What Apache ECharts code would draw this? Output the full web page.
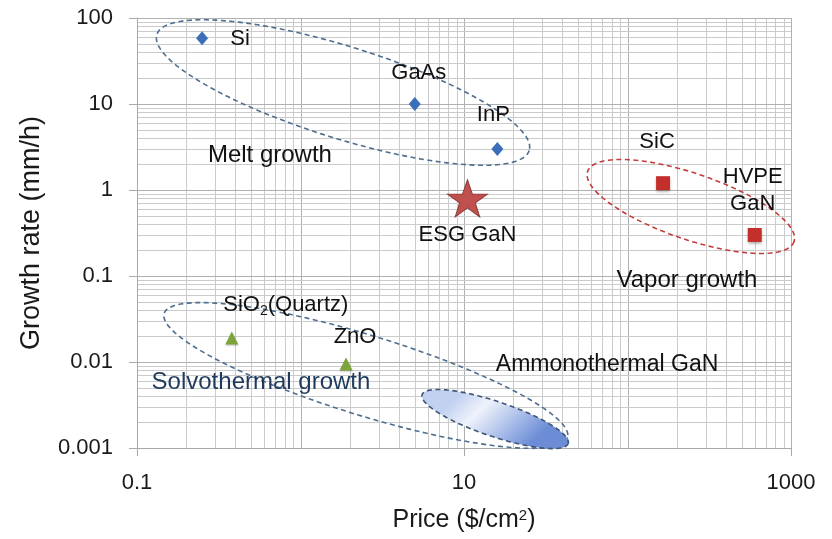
<!DOCTYPE html>
<html>
<head>
<meta charset="utf-8">
<title>Growth rate vs. price</title>
<script src="https://cdn.jsdelivr.net/npm/echarts@6/dist/echarts.min.js"></script>
<style>
  html, body { margin: 0; padding: 0; background: #ffffff; }
  #chart { width: 832px; height: 539px; }
</style>
</head>
<body>
<div id="chart"></div>
<script>
const FONT = '"Liberation Sans", Arial, "DejaVu Sans", sans-serif';

// Melt-grown crystals (blue diamonds)
const meltNames = ['Si', 'GaAs', 'InP'];
const meltPrice = [0.25, 5, 16];
const meltRate = [58, 10, 3];

// Vapor-grown crystals (red squares)
const vaporNames = ['SiC', 'HVPE\nGaN'];
const vaporPrice = [165, 600];
const vaporRate = [1.2, 0.3];

// Solvothermally grown crystals (green triangles)
const solvoNames = ['SiO{sub|2}(Quartz)', 'ZnO'];
const solvoPrice = [0.38, 1.9];
const solvoRate = [0.019, 0.0095];

// ESG GaN (red star)
const esgNames = ['ESG GaN'];
const esgPrice = [10.5];
const esgRate = [0.8];

// Growth-method regions: ellipse centre and caption anchor, in axis units
const regionNames = ['Melt growth', 'Vapor growth', 'Solvothermal growth', 'Ammonothermal GaN'];
const regionCenterPrice = [1.82, 244, 2.51, 15.5];
const regionCenterRate = [13.6, 0.643, 0.00697, 0.00217];
const regionLabelPrice = [0.65, 231, 0.573, 75];
const regionLabelRate = [2.52, 0.0887, 0.00578, 0.00935];

// Axis ticks
const xTickValues = [0.1, 10, 1000];
const xTickLabels = ['0.1', '10', '1000'];
const yTickValues = [0.001, 0.01, 0.1, 1, 10, 100];
const yTickLabels = ['0.001', '0.01', '0.1', '1', '10', '100'];

const X_MIN = 0.1, X_MAX = 1000, Y_MIN = 0.001, Y_MAX = 100;

// ---- styling -------------------------------------------------------------
// ellipse half-axes and tilt in pixels/degrees
const regionShapes = [
  { a: 195, b: 46, tilt: 17.3, stroke: '#4f6d8f', fill: null },
  { a: 109, b: 33, tilt: 18.8, stroke: '#c43b3b', fill: null },
  { a: 211, b: 40, tilt: 17.1, stroke: '#4f6d8f', fill: null },
  { a: 77, b: 17.5, tilt: 18.5, stroke: '#3f5676', fill: 'grad' }
];
const regionTextStyles = [
  { size: 24, color: '#111111' },
  { size: 24, color: '#111111' },
  { size: 24, color: '#1f3a5c' },
  { size: 23, color: '#111111' }
];
const pointLabelOffsets = {
  'Si': [38, 1],
  'GaAs': [4, -31],
  'InP': [-4, -34],
  'SiC': [-6, -41],
  'HVPE\nGaN': [-2, -45],
  'SiO{sub|2}(Quartz)': [54, -33],
  'ZnO': [9, -27],
  'ESG GaN': [0, 37]
};

function nearestLabel(v, values, labels) {
  let best = 0, bd = Infinity;
  values.forEach((t, i) => {
    const d = Math.abs(Math.log10(v) - Math.log10(t));
    if (d < bd) { bd = d; best = i; }
  });
  return bd < 0.01 ? labels[best] : '';
}

function buildPoints(names, xs, ys) {
  return names.map((n, i) => ({
    name: n,
    value: [xs[i], ys[i]],
    label: { offset: pointLabelOffsets[n] || [0, 0] }
  }));
}

const pointLabel = {
  show: true,
  position: 'inside',
  formatter: p => p.name,
  fontFamily: FONT,
  fontSize: 22,
  color: '#111111',
  opacity: 1,
  lineHeight: 27,
  align: 'center',
  verticalAlign: 'middle',
  rich: {
    sub: { fontFamily: FONT, fontSize: 14, color: '#111111', verticalAlign: 'bottom', padding: [12, 0, 0, 0] }
  }
};

// log grid: decade lines plus 2..9 within each decade
const gridMultipliers = [1, 2, 3, 4, 5, 6, 7, 8, 9];
const gridData = [];
for (let e = -1; e <= 2; e++) {
  gridMultipliers.forEach(m => gridData.push([m * Math.pow(10, e), 1, 0, m === 1 ? 1 : 0]));
}
gridData.push([X_MAX, 1, 0, 1]);
for (let e = -3; e <= 1; e++) {
  gridMultipliers.forEach(m => gridData.push([1, m * Math.pow(10, e), 1, m === 1 ? 1 : 0]));
}
gridData.push([1, Y_MAX, 1, 1]);

function ellipsePolygon(cx, cy, a, b, deg) {
  const t = deg * Math.PI / 180, c = Math.cos(t), s = Math.sin(t);
  const pts = [];
  const n = 160;
  for (let i = 0; i < n; i++) {
    const u = 2 * Math.PI * i / n;
    const x = a * Math.cos(u), y = b * Math.sin(u);
    pts.push([cx + x * c - y * s, cy + x * s + y * c]);
  }
  return pts;
}

const chart = echarts.init(document.getElementById('chart'), null, { renderer: 'canvas' });

const option = {
  animation: false,
  backgroundColor: '#ffffff',
  grid: { left: 137, right: 41, top: 18, bottom: 91, containLabel: false },
  xAxis: {
    type: 'log',
    logBase: 10,
    min: X_MIN,
    max: X_MAX,
    interval: 2,
    axisLine: { show: true, lineStyle: { color: '#a8a8a8', width: 1 } },
    axisTick: { show: true, length: 8, lineStyle: { color: '#a8a8a8' } },
    minorTick: { show: false },
    splitLine: { show: false },
    axisLabel: {
      margin: 24,
      fontFamily: FONT,
      fontSize: 22,
      color: '#1a1a1a',
      formatter: v => nearestLabel(v, xTickValues, xTickLabels)
    },
    name: 'Price ($/cm{sup|2})',
    nameLocation: 'middle',
    nameGap: 60,
    nameTextStyle: {
      fontFamily: FONT,
      fontSize: 25,
      color: '#1a1a1a',
      rich: {
        sup: { fontFamily: FONT, fontSize: 15, color: '#1a1a1a', verticalAlign: 'top', padding: [0, 0, 10, 0] }
      }
    }
  },
  yAxis: {
    type: 'log',
    logBase: 10,
    min: Y_MIN,
    max: Y_MAX,
    interval: 1,
    axisLine: { show: true, lineStyle: { color: '#a8a8a8', width: 1 } },
    axisTick: { show: true, length: 8, lineStyle: { color: '#a8a8a8' } },
    splitLine: { show: false },
    axisLabel: {
      margin: 24,
      fontFamily: FONT,
      fontSize: 22,
      color: '#1a1a1a',
      formatter: v => nearestLabel(v, yTickValues, yTickLabels)
    },
    name: 'Growth rate (mm/h)',
    nameLocation: 'middle',
    nameGap: 92,
    nameTextStyle: { fontFamily: FONT, fontSize: 27, color: '#1a1a1a' }
  },
  series: [
    {
      // background log grid
      type: 'custom',
      silent: true,
      z: 0,
      data: gridData,
      renderItem: (params, api) => {
        const vertical = api.value(2) === 0;
        const major = api.value(3) === 1;
        let p1, p2;
        if (vertical) {
          p1 = api.coord([api.value(0), Y_MIN]);
          p2 = api.coord([api.value(0), Y_MAX]);
          const x = Math.round(p1[0]) + 0.5;
          p1[0] = x; p2[0] = x;
        } else {
          p1 = api.coord([X_MIN, api.value(1)]);
          p2 = api.coord([X_MAX, api.value(1)]);
          const y = Math.round(p1[1]) + 0.5;
          p1[1] = y; p2[1] = y;
        }
        return {
          type: 'line',
          shape: { x1: p1[0], y1: p1[1], x2: p2[0], y2: p2[1] },
          style: { stroke: major ? '#b0b0b0' : '#cbcbcb', lineWidth: 1 }
        };
      }
    },
    {
      // growth-method regions with captions
      type: 'custom',
      silent: true,
      z: 1,
      data: regionNames.map((n, i) => [regionCenterPrice[i], regionCenterRate[i], i, regionLabelPrice[i], regionLabelRate[i]]),
      renderItem: (params, api) => {
        const i = api.value(2);
        const shp = regionShapes[i];
        const ts = regionTextStyles[i];
        const c = api.coord([api.value(0), api.value(1)]);
        const lp = api.coord([api.value(3), api.value(4)]);
        const fill = shp.fill === 'grad'
          ? new echarts.graphic.LinearGradient(0.3, 0, 0.7, 1, [
              { offset: 0, color: '#c3d1f0' },
              { offset: 0.3, color: '#eef2fb' },
              { offset: 0.6, color: '#b7c8ed' },
              { offset: 1, color: '#6c8dd6' }
            ])
          : null;
        return {
          type: 'group',
          children: [
            {
              type: 'polygon',
              shape: { points: ellipsePolygon(c[0], c[1], shp.a, shp.b, shp.tilt) },
              style: {
                fill: fill || 'none',
                stroke: shp.stroke,
                lineWidth: 1.6,
                lineDash: [5, 3.5]
              }
            },
            {
              type: 'text',
              x: lp[0],
              y: lp[1],
              style: {
                text: regionNames[i],
                fontFamily: FONT,
                fontSize: ts.size,
                fill: ts.color,
                align: 'center',
                verticalAlign: 'middle'
              }
            }
          ]
        };
      }
    },
    {
      name: 'Melt growth',
      type: 'scatter',
      z: 3,
      symbol: 'diamond',
      symbolSize: [12, 14],
      itemStyle: { color: '#3b6fba', opacity: 1 },
      label: pointLabel,
      data: buildPoints(meltNames, meltPrice, meltRate)
    },
    {
      name: 'Vapor growth',
      type: 'scatter',
      z: 3,
      symbol: 'rect',
      symbolSize: [14, 14],
      itemStyle: { color: '#c3302c', opacity: 1, shadowBlur: 3, shadowColor: 'rgba(0,0,0,0.35)', shadowOffsetY: 2 },
      label: pointLabel,
      data: buildPoints(vaporNames, vaporPrice, vaporRate)
    },
    {
      name: 'Solvothermal growth',
      type: 'scatter',
      z: 3,
      symbol: 'triangle',
      symbolSize: [13, 13],
      itemStyle: { color: '#7ca43a', opacity: 1, shadowBlur: 2, shadowColor: 'rgba(0,0,0,0.25)', shadowOffsetY: 1 },
      label: pointLabel,
      data: buildPoints(solvoNames, solvoPrice, solvoRate)
    },
    {
      name: 'ESG GaN',
      type: 'scatter',
      z: 3,
      symbol: 'path://M50,0 L61.8,35.1 L98.1,35.1 L68.8,56.8 L79.4,90.9 L50,69.1 L20.6,90.9 L31.2,56.8 L1.9,35.1 L38.2,35.1 Z',
      symbolSize: [40, 37],
      itemStyle: { color: '#c0504d', opacity: 1, borderColor: '#8e3b39', borderWidth: 1 },
      label: pointLabel,
      data: buildPoints(esgNames, esgPrice, esgRate)
    }
  ]
};

chart.setOption(option);
</script>
</body>
</html>
